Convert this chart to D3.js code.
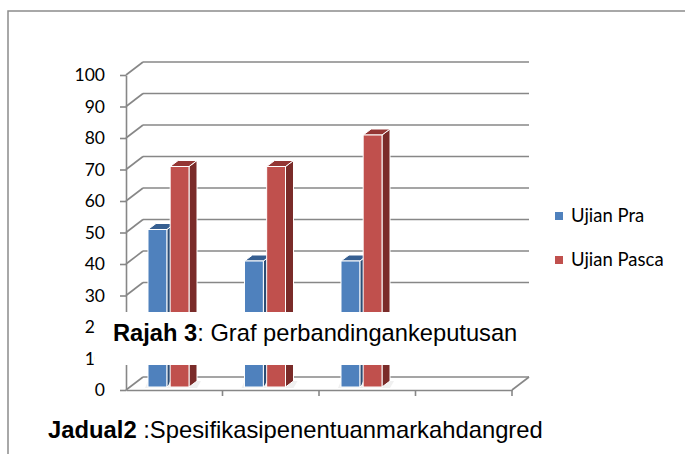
<!DOCTYPE html>
<html>
<head>
<meta charset="utf-8">
<script src="https://cdn.jsdelivr.net/npm/d3@7"></script>
<style>
  body { margin: 0; background: #fff; }
  svg { display: block; }
</style>
</head>
<body>
<div id="chart"></div>
<script>
// categories have no visible labels in the picture
const categories = [1, 2, 3, 4];
const series = ['Ujian Pra', 'Ujian Pasca'];
const ujianPra = [50, 40, 40, null];
const ujianPasca = [70, 70, 80, null];
const yTicks = [0, 10, 20, 30, 40, 50, 60, 70, 80, 90, 100];
const colors = ['#4F81BD', '#C0504D'];
const topColors = ['#365F91', '#943634'];
const sideColors = ['#2C4D75', '#7A2B29'];

const width = 685;
const height = 454;
const depth = {dx: 17, dy: -13};
const barShift = {dx: 3.5, dy: -3};
const barDepth = {dx: 8, dy: -6};
const gridColor = '#878787';

const svg = d3.select('#chart').append('svg')
    .attr('width', width)
    .attr('height', height);

// outer frame
svg.append('rect')
    .attr('x', 8).attr('y', 11)
    .attr('width', 720).attr('height', 520)
    .attr('fill', 'none')
    .attr('stroke', '#8c8c8c')
    .attr('stroke-width', 1.5);

const x = d3.scaleBand()
    .domain(categories)
    .range([126, 512]);

const xs = d3.scaleBand()
    .domain(series)
    .range([18.5, 59.5])
    .paddingInner(0.15);

const y = d3.scaleLinear()
    .domain([0, 100])
    .range([390, 75]);

const x0 = x.range()[0], x1 = x.range()[1];

// back wall gridlines
svg.append('g')
  .selectAll('line')
  .data(yTicks)
  .join('line')
    .attr('x1', x0 + depth.dx).attr('x2', x1 + depth.dx)
    .attr('y1', d => y(d) + depth.dy).attr('y2', d => y(d) + depth.dy)
    .attr('stroke', gridColor)
    .attr('stroke-width', 1.6);

// side wall gridlines
svg.append('g')
  .selectAll('line')
  .data(yTicks)
  .join('line')
    .attr('x1', x0).attr('x2', x0 + depth.dx)
    .attr('y1', d => y(d)).attr('y2', d => y(d) + depth.dy)
    .attr('stroke', gridColor)
    .attr('stroke-width', 1.6);

// floor edge on the right
svg.append('line')
    .attr('x1', x1).attr('x2', x1 + depth.dx)
    .attr('y1', y(0)).attr('y2', y(0) + depth.dy)
    .attr('stroke', gridColor)
    .attr('stroke-width', 1.6);

// y axis
svg.append('g')
    .attr('transform', `translate(${x0},0)`)
    .call(d3.axisLeft(y).tickValues(yTicks).tickSize(6).tickSizeOuter(0).tickPadding(15))
    .call(g => g.selectAll('line, path').attr('stroke', gridColor).attr('stroke-width', 1.6))
    .call(g => g.selectAll('text')
        .attr('font-family', 'Lato, sans-serif')
        .attr('font-size', 17.5)
        .attr('fill', '#000'));

// x axis
svg.append('g')
    .attr('transform', `translate(0,${y(0)})`)
    .call(d3.axisBottom(x).tickValues([]).tickSizeOuter(0))
    .call(g => g.select('path').attr('stroke', gridColor).attr('stroke-width', 1.6));

svg.append('g')
  .selectAll('line')
  .data(categories)
  .join('line')
    .attr('x1', d => x(d) + x.bandwidth()).attr('x2', d => x(d) + x.bandwidth())
    .attr('y1', y(0)).attr('y2', y(0) + 6)
    .attr('stroke', gridColor)
    .attr('stroke-width', 1.6);

// bars
const barData = [];
categories.forEach((c, i) => {
    [ujianPra, ujianPasca].forEach((vals, s) => {
        if (vals[i] != null) barData.push({cat: c, s: s, value: vals[i]});
    });
});

const bw = xs.bandwidth();
const bars = svg.append('g')
  .selectAll('g')
  .data(barData)
  .join('g');

function barGeom(d) {
    const bx = x(d.cat) + xs(series[d.s]) + barShift.dx;
    const yt = y(d.value) + barShift.dy;
    const yb = y(0) + barShift.dy;
    return {bx, yt, yb};
}

// faint base shadow
bars.append('polygon')
    .attr('points', d => {
        const g = barGeom(d);
        return [[g.bx - 3, g.yb + 1], [g.bx + bw + barDepth.dx, g.yb + 1],
                [g.bx + bw + barDepth.dx + 4, g.yb + barDepth.dy], [g.bx, g.yb + barDepth.dy]].join(' ');
    })
    .attr('fill', '#f0f0f0');

bars.append('polygon')
    .attr('points', d => {
        const g = barGeom(d);
        return [[g.bx + bw, g.yt], [g.bx + bw + barDepth.dx, g.yt + barDepth.dy],
                [g.bx + bw + barDepth.dx, g.yb + barDepth.dy], [g.bx + bw, g.yb]].join(' ');
    })
    .attr('fill', d => sideColors[d.s])
    .attr('stroke', '#fff')
    .attr('stroke-width', 1);

bars.append('polygon')
    .attr('points', d => {
        const g = barGeom(d);
        return [[g.bx, g.yt], [g.bx + barDepth.dx, g.yt + barDepth.dy],
                [g.bx + bw + barDepth.dx, g.yt + barDepth.dy], [g.bx + bw, g.yt]].join(' ');
    })
    .attr('fill', d => topColors[d.s])
    .attr('stroke', '#fff')
    .attr('stroke-width', 1);

bars.append('rect')
    .attr('x', d => barGeom(d).bx)
    .attr('y', d => barGeom(d).yt)
    .attr('width', bw)
    .attr('height', d => barGeom(d).yb - barGeom(d).yt)
    .attr('fill', d => colors[d.s])
    .attr('stroke', '#fff')
    .attr('stroke-width', 1);

// legend
const legend = svg.append('g')
  .selectAll('g')
  .data(series)
  .join('g')
    .attr('transform', (d, i) => `translate(555,${212 + i * 44})`);

legend.append('rect')
    .attr('width', 8).attr('height', 8)
    .attr('fill', (d, i) => colors[i]);

legend.append('text')
    .attr('x', 16).attr('y', 10)
    .attr('font-family', 'Lato, sans-serif')
    .attr('font-size', 18.5)
    .text(d => d);

// caption pasted over the chart
svg.append('rect')
    .attr('x', 95).attr('y', 312)
    .attr('width', 450).attr('height', 53)
    .attr('fill', '#fff');

const cap1 = svg.append('text')
    .attr('x', 113).attr('y', 341)
    .attr('font-family', '"Liberation Sans", Arial, sans-serif')
    .attr('font-size', 23.7);
cap1.append('tspan').attr('font-weight', 'bold').text('Rajah 3');
cap1.append('tspan').text(': Graf perbandingankeputusan');

const cap2 = svg.append('text')
    .attr('x', 48).attr('y', 438)
    .attr('font-family', '"Liberation Sans", Arial, sans-serif')
    .attr('font-size', 23.8);
cap2.append('tspan').attr('font-weight', 'bold').text('Jadual2');
cap2.append('tspan').text(' :Spesifikasipenentuanmarkahdangred');
</script>
</body>
</html>
